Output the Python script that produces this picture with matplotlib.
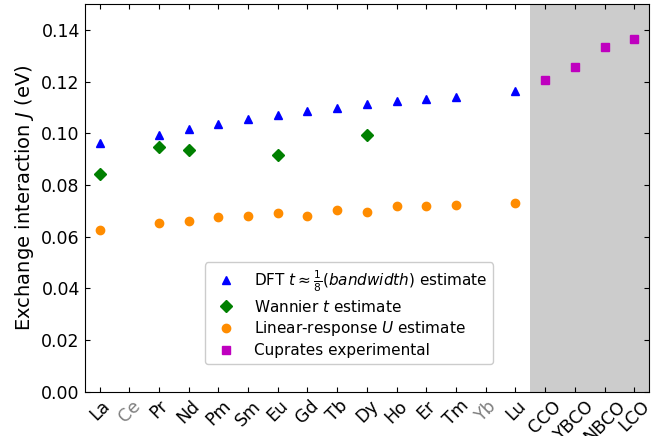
import matplotlib
matplotlib.use("Agg")
import matplotlib.pyplot as plt
import numpy as np

labels = ["La", "Ce", "Pr", "Nd", "Pm", "Sm", "Eu", "Gd", "Tb", "Dy", "Ho", "Er",
          "Tm", "Yb", "Lu", "CCO", "YBCO", "NBCO", "LCO"]
gray_labels = ["Ce", "Yb"]

dft_labels = ["La", "Pr", "Nd", "Pm", "Sm", "Eu", "Gd", "Tb", "Dy", "Ho", "Er", "Tm", "Lu"]
dft_vals = [0.0962, 0.0993, 0.1016, 0.1036, 0.1055, 0.1071, 0.1085, 0.1098, 0.1112,
            0.1123, 0.1132, 0.1141, 0.1163]

wan_labels = ["La", "Pr", "Nd", "Eu", "Dy"]
wan_vals = [0.0843, 0.0946, 0.0935, 0.0915, 0.0993]

lr_labels = ["La", "Pr", "Nd", "Pm", "Sm", "Eu", "Gd", "Tb", "Dy", "Ho", "Er", "Tm", "Lu"]
lr_vals = [0.0626, 0.0652, 0.0662, 0.0675, 0.0682, 0.0691, 0.0679, 0.0704, 0.0697,
           0.0718, 0.0720, 0.0723, 0.0729]

cup_labels = ["CCO", "YBCO", "NBCO", "LCO"]
cup_vals = [0.1205, 0.1256, 0.1335, 0.1365]

idx = {l: i for i, l in enumerate(labels)}

fig = plt.figure(figsize=(6.72, 4.36), dpi=100)
ax = fig.add_axes([0.126, 0.101, 0.840, 0.890])

ax.axvspan(idx["CCO"] - 0.5, len(labels) - 0.5, color="#cccccc", zorder=0, lw=0)

ax.plot([idx[l] for l in dft_labels], dft_vals, "^", color="blue", ms=6,
        label=r"DFT $t \approx \frac{1}{8}(bandwidth)$ estimate")
ax.plot([idx[l] for l in wan_labels], wan_vals, "D", color="green", ms=6,
        label=r"Wannier $t$ estimate")
ax.plot([idx[l] for l in lr_labels], lr_vals, "o", color="darkorange", ms=6,
        label=r"Linear-response $U$ estimate")
ax.plot([idx[l] for l in cup_labels], cup_vals, "s", color="m", ms=6,
        label="Cuprates experimental")

ax.set_xlim(-0.5, len(labels) - 0.5)
ax.set_ylim(0, 0.15)
ax.set_yticks(np.arange(0, 0.141, 0.02))
ax.set_xticks(range(len(labels)))
ax.set_xticklabels(labels, rotation=45, ha="center", fontsize=12.5)
for t in ax.get_xticklabels():
    if t.get_text() in gray_labels:
        t.set_color("gray")
ax.tick_params(axis="both", direction="in", top=True, right=True, labelsize=12.5)
ax.set_ylabel(r"Exchange interaction $J$ (eV)", fontsize=14)

ax.legend(loc="lower left", bbox_to_anchor=(0.213, 0.072), fontsize=11,
          framealpha=1, borderaxespad=0, labelspacing=0.3)

fig.savefig("out.png", dpi=100)
